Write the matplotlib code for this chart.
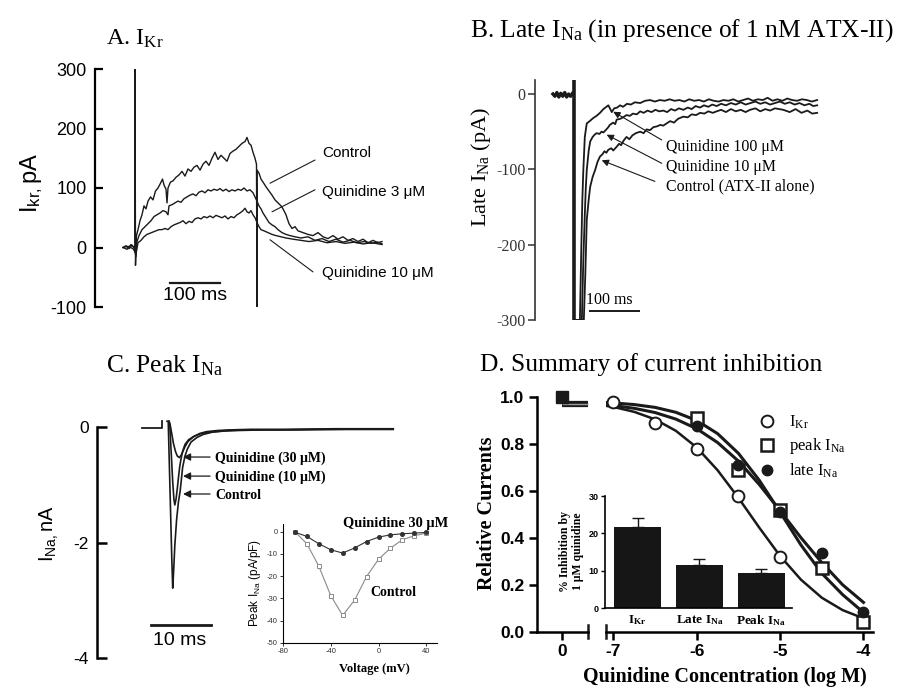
import matplotlib
matplotlib.use("Agg")
import matplotlib.pyplot as plt

plt.rcParams['mathtext.default'] = 'regular'
plt.rcParams['axes.unicode_minus'] = False
SERIF = 'Liberation Serif'
SANS = 'Liberation Sans'
INK = '#1a1a1a'

# ---------------- data ----------------
# A. I_Kr traces (time ms, current pA)
a_t_ctrl = [0, 6, 12, 18, 22, 24, 24, 25, 27, 30, 34, 38, 42, 46, 50, 55, 60, 65, 70, 75, 79, 82, 86, 88, 90,
            95, 100, 106, 112, 118, 124, 130, 136, 142, 148, 154, 160, 166, 172, 178, 184, 190, 196, 202, 208,
            214, 220, 226, 232, 238, 244, 248, 252, 256, 260, 264, 267, 268, 268, 272, 276, 280, 286, 292, 298,
            304, 310, 316, 320, 326, 332, 338, 344, 350, 360, 370, 380, 390, 400, 410, 420, 430, 440, 450, 460,
            470, 480, 490, 500, 510, 518]
a_ctrl = [0, 3, -2, 4, 0, 0, 300, -30, 20, 30, 45, 55, 70, 65, 78, 85, 80, 95, 100, 108, 115, 105, 98, 75, 100,
          110, 112, 118, 122, 128, 120, 132, 128, 135, 138, 130, 140, 145, 138, 150, 160, 148, 155, 150, 145,
          158, 162, 165, 170, 175, 178, 185, 175, 172, 160, 150, 140, -100, 130, 125, 115, 110, 102, 95, 88,
          80, 75, 70, 65, 55, 40, 32, 35, 28, 25, 22, 20, 25, 18, 15, 20, 14, 18, 12, 15,
          10, 14, 8, 12, 8, 10]
a_t_q3 = [0, 8, 16, 22, 26, 28, 32, 38, 44, 50, 56, 62, 68, 74, 80, 86, 90, 92, 98, 104, 110, 116, 122, 128, 134,
          140, 146, 152, 158, 164, 170, 176, 182, 188, 194, 200, 206, 212, 218, 224, 230, 236, 242, 248, 254,
          260, 264, 268, 272, 276, 280, 286, 292, 298, 304, 310, 318, 326, 334, 344, 356, 370, 384, 398, 412,
          426, 440, 454, 468, 482, 496, 510, 518]
a_q3 = [0, -3, 5, 0, -15, 10, 20, 30, 35, 40, 45, 52, 55, 58, 62, 60, 55, 70, 72, 75, 78, 76, 82, 85, 88,
        90, 87, 93, 95, 92, 97, 95, 98, 96, 99, 95, 98, 94, 97, 95, 98, 96, 100, 95, 97,
        92, 85, 78, 70, 65, 58, 50, 42, 38, 35, 30, 25, 22, 20, 18, 16, 18, 12, 15, 10,
        14, 9, 12, 8, 10, 7, 9, 6]
a_t_q10 = [0, 10, 20, 26, 30, 36, 42, 48, 54, 60, 66, 72, 78, 84, 90, 96, 102, 108, 114, 120, 126, 132, 138, 144,
           150, 156, 162, 168, 174, 180, 186, 192, 198, 204, 210, 216, 222, 228, 234, 240, 244, 248, 252, 256,
           260, 264, 268, 272, 276, 282, 290, 298, 306, 316, 326, 340, 356, 372, 390, 408, 426, 444, 462, 480,
           498, 518]
a_q10 = [0, 2, -2, -10, 8, 12, 18, 22, 24, 26, 28, 30, 30, 32, 30, 35, 38, 40, 42, 45, 40, 44, 42, 48,
         50, 48, 52, 50, 53, 50, 54, 52, 50, 53, 48, 52, 50, 55, 58, 62, 66, 60, 58, 62,
         55, 50, 42, 35, 30, 28, 25, 22, 20, 18, 16, 14, 12, 10, 12, 8, 10, 7, 9, 6,
         8, 5]

# B. late I_Na traces (time ms, current pA)
b_stim_t = 0
b_t_base = [-43, -39, -35, -31, -27, -23, -19, -15, -11, -7, -3]
b_base = [0, -3, 2, -4, 1, -3, 2, -4, 0, -3, 1]
b_t_q100 = [3, 12, 15, 17, 19, 22, 26, 32, 39, 46, 53, 60, 66, 70, 74, 77, 82, 88, 94, 100, 108, 116, 124, 135,
            145, 155, 165, 175, 185, 195, 205, 215, 225, 235, 245, 255, 265, 275, 285, 295, 305, 315, 325, 335,
            345, 355, 365, 375, 385, 395, 405, 415, 425, 435, 445, 455, 465, 475, 485, 496]
b_q100 = [-300, -300, -200, -140, -101, -57, -39, -36, -32, -29, -25, -20, -17, -15, -20, -24, -19, -18, -15, -17,
          -13, -14, -11, -12, -9, -8, -10, -8, -9, -7, -9, -8, -10, -7, -9, -8, -10, -7, -9, -10,
          -8, -9, -7, -10, -8, -6, -9, -7, -8, -5, -9, -7, -9, -6, -8, -9, -7, -8, -10, -8]
b_t_q10 = [4, 16, 19, 22, 24, 26, 30, 33, 38, 42, 46, 52, 56, 60, 66, 70, 73, 80, 84, 87, 94, 100, 107, 114, 120,
           128, 135, 142, 150, 158, 166, 174, 182, 190, 198, 206, 214, 223, 232, 240, 248, 257, 265, 274, 282,
           291, 300, 310, 320, 330, 340, 350, 360, 370, 380, 390, 400, 410, 420, 430, 440, 450, 460, 470, 480,
           488, 496]
b_q10 = [-300, -300, -220, -160, -125, -101, -75, -63, -57, -54, -52, -53, -50, -51, -47, -44, -41, -38, -40, -34,
         -33, -31, -28, -29, -26, -27, -23, -25, -22, -24, -21, -23, -22, -24, -20, -22, -19, -21, -18, -20,
         -16, -18, -15, -17, -14, -16, -13, -15, -12, -14, -11, -14, -12, -10, -13, -11, -14, -12, -10, -13,
         -11, -14, -12, -15, -13, -16, -15]
b_t_ctrl = [5, 20, 23, 26, 30, 33, 38, 43, 48, 53, 58, 62, 66, 70, 76, 80, 87, 92, 96, 101, 107, 113, 119, 126,
            135, 142, 148, 155, 162, 169, 176, 182, 189, 196, 204, 212, 223, 232, 240, 249, 257, 266, 274, 283,
            291, 300, 310, 320, 330, 340, 350, 359, 370, 380, 390, 400, 410, 427, 440, 452, 464, 476, 486, 496]
b_ctrl = [-300, -300, -240, -167, -140, -123, -110, -101, -90, -83, -80, -76, -78, -74, -72, -75, -70, -66, -68,
          -62, -57, -60, -55, -52, -50, -52, -47, -48, -44, -43, -41, -42, -39, -36, -38, -33, -30, -31, -27,
          -28, -25, -26, -23, -25, -23, -21, -24, -20, -23, -21, -24, -21, -19, -23, -20, -22, -19, -21, -24,
          -20, -25, -22, -26, -25]

# C. peak I_Na traces (time ms, current nA)
c_t_base = [-4.2, -0.85, -0.85]
c_base = [-0.02, -0.02, 0.1]
c_t_ctrl = [0, 0.2, 0.4, 0.6, 0.8, 0.95, 1.1, 1.3, 1.6, 1.9, 2.2, 2.6, 3.0, 3.4, 4.0, 5, 6, 7.5, 9.5, 12,
            16, 22, 30, 37.7]
c_ctrl = [0.1, 0.1, -0.7, -1.5, -2.3, -2.79, -2.5, -2.05, -1.6, -1.3, -1.1, -0.7, -0.5, -0.38, -0.26,
          -0.18, -0.13, -0.09, -0.07, -0.06, -0.05, -0.05, -0.04, -0.04]
c_t_q10 = [0.3, 0.45, 0.7, 0.95, 1.15, 1.3, 1.5, 1.7, 1.9, 2.1, 2.3, 2.6, 3.0, 3.6, 4.5, 5.5, 6.5, 8, 10, 13,
           18, 25, 37.7]
c_q10 = [0.1, 0.05, -0.45, -0.95, -1.25, -1.35, -1.25, -1.08, -0.88, -0.7, -0.57, -0.42, -0.3, -0.22, -0.16,
         -0.12, -0.1, -0.08, -0.06, -0.05, -0.05, -0.04, -0.04]
c_t_q30 = [0.35, 0.5, 0.8, 1.06, 1.4, 1.7, 2.06, 2.4, 2.7, 3.0, 3.5, 4.4, 5.5, 6.6, 8.5, 10.5, 14, 20, 28, 37.7]
c_q30 = [0.1, 0.05, -0.12, -0.28, -0.42, -0.5, -0.53, -0.48, -0.41, -0.34, -0.25, -0.17, -0.11, -0.08, -0.06,
         -0.05, -0.04, -0.04, -0.03, -0.03]

# C inset: I-V relation (mV, pA/pF)
iv_mv = [-70, -60, -50, -40, -30, -20, -10, 0, 10, 20, 30, 40]
iv_ctrl = [0, -5.4, -15.5, -28.8, -37.7, -30.8, -20.2, -12.4, -7.4, -3.6, -1.8, -0.6]
iv_quin = [-0.2, -2.1, -5.4, -8.1, -9.6, -7.3, -4.4, -2.4, -1.4, -0.9, -0.6, -0.3]

# D. concentration-response (log M, relative current)
ctrl_x = [0]
ctrl_rel = [1.0]
ctrl_fit_x = [0, 1]
ctrl_fit = [0.972, 0.972]
conc_ikr = [-7, -6.5, -6, -5.5, -5]
rel_ikr = [0.98, 0.89, 0.78, 0.58, 0.32]
conc_na = [-6, -5.5, -5, -4.5, -4]
rel_peak = [0.91, 0.69, 0.52, 0.27, 0.04]
rel_late = [0.877, 0.71, 0.51, 0.335, 0.085]
fit_x = [-7.1, -7.0, -6.75, -6.5, -6.25, -6.0, -5.75, -5.5, -5.25, -5.0, -4.75, -4.5, -4.25, -4.0]
fit_ikr = [0.964, 0.959, 0.938, 0.906, 0.857, 0.786, 0.689, 0.571, 0.444, 0.323, 0.222, 0.145, 0.092, 0.057]
fit_peak = [0.978, 0.976, 0.969, 0.957, 0.936, 0.901, 0.845, 0.761, 0.646, 0.510, 0.370, 0.249, 0.158, 0.082]
fit_late = [0.968, 0.965, 0.953, 0.935, 0.907, 0.866, 0.807, 0.728, 0.628, 0.516, 0.401, 0.295, 0.200, 0.125]

# D inset: % inhibition by 1 uM quinidine
bar_labels = ['I$_{Kr}$', 'Late I$_{Na}$', 'Peak I$_{Na}$']
bar_vals = [21.8, 11.5, 9.4]
bar_err = [2.3, 1.7, 1.1]

# ---------------- figure ----------------
W, H = 904, 690
fig = plt.figure(figsize=(W / 100, H / 100), dpi=100)


def box(l, t, r, b):
    return [l / W, 1 - b / H, (r - l) / W, (b - t) / H]


def ftext(x, y, s, **kw):
    fig.text(x / W, 1 - y / H, s, **kw)


def only_spines(ax, keep):
    for s in ['left', 'right', 'top', 'bottom']:
        ax.spines[s].set_visible(s in keep)


# ---- A ----
axA = fig.add_axes(box(95, 69, 445, 307))
axA.plot(a_t_ctrl, a_ctrl, color=INK, lw=1.0)
axA.plot(a_t_q3, a_q3, color=INK, lw=1.0)
axA.plot(a_t_q10, a_q10, color=INK, lw=1.0)
axA.set_xlim(-56, 644)
axA.set_ylim(-100, 300)
only_spines(axA, ['left'])
axA.spines['left'].set_linewidth(1.6)
axA.set_xticks([])
axA.set_yticks([-100, 0, 100, 200, 300])
axA.tick_params(axis='y', direction='in', length=6, width=1.6, labelsize=13, pad=6, labelfontfamily=SANS)
for tip, tail, lab, ty in [((294, 108), (384, 147), 'Control', 159),
                           ((298, 60), (384, 97), 'Quinidine 3 μM', 93),
                           ((294, 13), (380, -41), 'Quinidine 10 μM', -43)]:
    axA.annotate('', xy=tip, xytext=tail,
                 arrowprops=dict(arrowstyle='-', lw=0.8, color=INK, shrinkA=0, shrinkB=0))
    axA.text(398, ty, lab, family=SANS, size=11, va='center', ha='left')
axA.plot([94, 194], [-60, -60], color=INK, lw=1.6)
axA.text(144, -80, '100 ms', family=SANS, size=14, ha='center', va='center')
ftext(106, 45, 'A. I$_{Kr}$', family=SERIF, size=17.5, va='baseline')
ftext(32, 183, 'I$_{kr,}$pA', family=SANS, size=17, rotation=90, ha='center', va='center')

# ---- B ----
axB = fig.add_axes(box(535, 80, 900, 320))
axB.plot(b_t_base, b_base, color=INK, lw=2.4)
axB.vlines(b_stim_t, -300, 18.6, color=INK, lw=2.6)
axB.plot(b_t_q100, b_q100, color=INK, lw=1.3)
axB.plot(b_t_q10, b_q10, color=INK, lw=1.3)
axB.plot(b_t_ctrl, b_ctrl, color=INK, lw=1.3)
axB.set_xlim(-79.6, 665)
axB.set_ylim(-300, 18.6)
only_spines(axB, ['left'])
axB.spines['left'].set_linewidth(1.2)
axB.spines['left'].set_color('#333333')
axB.set_xticks([])
axB.set_yticks([0, -100, -200, -300])
axB.tick_params(axis='y', direction='out', length=5, width=1.1, labelsize=11.5, pad=2,
                labelfontfamily=SERIF, colors='#333333')
for tip, tail, lab, ty in [((80, -23.5), (179, -61), 'Quinidine 100 μM', -70),
                           ((66.6, -54), (179, -92), 'Quinidine 10 μM', -97),
                           ((56.5, -88), (165, -116), 'Control (ATX-II alone)', -123)]:
    axB.annotate('', xy=tip, xytext=tail,
                 arrowprops=dict(arrowstyle='-|>', lw=0.8, color=INK, mutation_scale=10,
                                 shrinkA=0, shrinkB=0))
    axB.text(188, ty, lab, family=SERIF, size=11.4, va='center', ha='left')
axB.plot([32.6, 132.6], [-288, -288], color=INK, lw=1.4)
axB.text(72.7, -273, '100 ms', family=SERIF, size=11.4, ha='center', va='center')
ftext(470, 37, 'B. Late I$_{Na}$ (in presence of 1 nM ATX-II)', family=SERIF, size=18.4, va='baseline')
ftext(481, 167, 'Late I$_{Na}$ (pA)', family=SERIF, size=16, rotation=90, ha='center', va='center')

# ---- C ----
axC = fig.add_axes(box(97, 406.8, 400, 658))
axC.plot(c_t_base, c_base, color=INK, lw=1.3)
axC.plot(c_t_ctrl, c_ctrl, color=INK, lw=1.2)
axC.plot(c_t_q10, c_q10, color=INK, lw=1.2)
axC.plot(c_t_q30, c_q30, color=INK, lw=1.2)
axC.set_xlim(-11.67, 38.83)
axC.set_ylim(-4, 0.35)
only_spines(axC, ['left'])
axC.spines['left'].set_bounds(-4, 0)
axC.spines['left'].set_linewidth(1.8)
axC.set_xticks([])
axC.set_yticks([0, -2, -4])
axC.tick_params(axis='y', direction='in', length=7, width=1.8, labelsize=12.5, pad=6, labelfontfamily=SANS)
for tipy, lab in [(-0.52, 'Quinidine (30 μM)'), (-0.85, 'Quinidine (10 μM)'), (-1.16, 'Control')]:
    axC.annotate('', xy=(2.67, tipy), xytext=(7.17, tipy),
                 arrowprops=dict(arrowstyle='-|>', lw=0.9, color=INK, mutation_scale=11,
                                 shrinkA=0, shrinkB=0))
    axC.text(8.0, tipy - 0.02, lab, family=SERIF, weight='bold', size=10, va='center', ha='left')
axC.plot([-2.67, 7.33], [-3.43, -3.43], color=INK, lw=2)
axC.text(2.17, -3.69, '10 ms', family=SANS, size=14, ha='center', va='center')
ftext(106, 372, 'C. Peak I$_{Na}$', family=SERIF, size=18.4, va='baseline')
ftext(49.5, 534, 'I$_{Na,}$nA', family=SANS, size=14.3, rotation=90, ha='center', va='center')

# C inset
axCi = fig.add_axes(box(283, 524, 437, 642.7))
axCi.plot(iv_mv, iv_ctrl, '-s', color='#8a8a8a', mfc='white', ms=2.6, mew=0.7, lw=0.8)
axCi.plot(iv_mv, iv_quin, '-o', color='#333333', ms=2.6, lw=0.8)
axCi.set_xlim(-80, 49)
axCi.set_ylim(-50, 3.5)
axCi.set_facecolor('none')
only_spines(axCi, ['left', 'bottom'])
for s in ['left', 'bottom']:
    axCi.spines[s].set_linewidth(0.8)
axCi.set_xticks([-80, -40, 0, 40])
axCi.set_yticks([0, -10, -20, -30, -40, -50])
axCi.tick_params(length=2.5, width=0.7, labelsize=5.5, pad=1.5, labelfontfamily=SANS, colors='#333333')
ftext(343, 524, 'Quinidine 30 μM', family=SERIF, weight='bold', size=10.4, va='center')
ftext(370, 593, 'Control', family=SERIF, weight='bold', size=10, va='center')
ftext(374, 669, 'Voltage (mV)', family=SERIF, weight='bold', size=9, ha='center', va='center')
ftext(255, 583, 'Peak I$_{Na}$ (pA/pF)', family=SANS, size=8.5, rotation=90, ha='center', va='center')

# ---- D ----
axD0 = fig.add_axes(box(537, 397.3, 588, 631.7))
axD1 = fig.add_axes(box(606, 397.3, 873, 631.7))
for ax in (axD0, axD1):
    ax.set_ylim(0, 1.0)
    ax.set_facecolor('none')
axD0.set_xlim(-1, 1)
axD1.set_xlim(-7.088, -3.886)

axD0.plot(ctrl_fit_x, ctrl_fit, color=INK, lw=4.5, solid_capstyle='butt', clip_on=False)
axD0.plot(ctrl_fit_x, ctrl_fit, color='#9a9a9a', lw=1.0, solid_capstyle='butt', clip_on=False)
axD0.plot(ctrl_x, ctrl_rel, 's', color=INK, ms=9, clip_on=False)

axD1.plot(fit_x, fit_ikr, color=INK, lw=1.8, zorder=2)
axD1.plot(fit_x, fit_peak, color=INK, lw=2.2, zorder=2)
axD1.plot(fit_x, fit_late, color=INK, lw=2.2, zorder=2)
h_ikr, = axD1.plot(conc_ikr, rel_ikr, 'o', mfc='white', mec=INK, mew=1.4, ms=8.5, zorder=3, clip_on=False)
h_peak, = axD1.plot(conc_na, rel_peak, 's', mfc='white', mec=INK, mew=1.8, ms=8.5, zorder=3, clip_on=False)
h_late, = axD1.plot(conc_na, rel_late, 'o', color=INK, ms=7.5, zorder=4, clip_on=False)

only_spines(axD0, ['left', 'bottom'])
only_spines(axD1, ['bottom'])
for ax in (axD0, axD1):
    for s in ['left', 'bottom']:
        ax.spines[s].set_linewidth(1.8)
    ax.tick_params(direction='out', length=6, width=1.8, labelsize=12.5, pad=3, labelfontfamily=SANS)
axD0.set_yticks([0, 0.2, 0.4, 0.6, 0.8, 1.0])
axD0.set_yticklabels(['0.0', '0.2', '0.4', '0.6', '0.8', '1.0'], fontweight='bold')
axD0.set_xticks([0])
axD0.set_xticklabels(['0'], fontweight='bold')
axD1.set_yticks([])
axD1.set_xticks([-7, -6, -5, -4])
axD1.set_xticklabels(['-7', '-6', '-5', '-4'], fontweight='bold')
# axis break marks
axD0.plot([1, 1], [-0.028, 0.028], transform=axD0.transAxes, color=INK, lw=1.8, clip_on=False)
axD1.plot([0, 0], [-0.028, 0.028], transform=axD1.transAxes, color=INK, lw=1.8, clip_on=False)

axD1.legend([h_ikr, h_peak, h_late], ['I$_{Kr}$', 'peak I$_{Na}$', 'late I$_{Na}$'],
            loc='upper left', bbox_to_anchor=(759 / W, 1 - 414 / H), bbox_transform=fig.transFigure,
            frameon=False, prop=dict(family=SERIF, size=12), handlelength=1.0, handletextpad=0.8,
            borderpad=0, borderaxespad=0, labelspacing=0.3)

ftext(480, 371, 'D. Summary of current inhibition', family=SERIF, size=18.4, va='baseline')
ftext(487.5, 513, 'Relative Currents', family=SERIF, weight='bold', size=14.5, rotation=90,
      ha='center', va='center')
ftext(724.5, 677, 'Quinidine Concentration (log M)', family=SERIF, weight='bold', size=14.5,
      ha='center', va='center')

# D inset bar chart
axDi = fig.add_axes(box(605, 496, 792, 608))
axDi.set_facecolor('none')
xpos = list(range(len(bar_vals)))
axDi.bar(xpos, bar_vals, width=0.76, color='#161616', zorder=2)
axDi.errorbar(xpos, bar_vals, yerr=[[0] * len(bar_err), bar_err], fmt='none', ecolor='#161616',
              elinewidth=1.0, capsize=4.5, capthick=1.0, zorder=1)
axDi.set_xlim(-0.527, 2.5)
axDi.set_ylim(0, 30)
only_spines(axDi, ['left', 'bottom'])
for s in ['left', 'bottom']:
    axDi.spines[s].set_linewidth(1.2)
axDi.set_yticks([0, 10, 20, 30])
axDi.set_yticklabels(['0', '10', '20', '30'], fontweight='bold')
axDi.tick_params(axis='y', length=3, width=1.0, labelsize=6.5, pad=1.5, labelfontfamily=SANS)
axDi.set_xticks(xpos)
axDi.set_xticklabels(bar_labels, family=SERIF, fontweight='bold', fontsize=9.5)
axDi.tick_params(axis='x', length=0, pad=4)
ftext(571.5, 551.5, '% Inhibition by\n1 μM quinidine', family=SERIF, weight='bold', size=8.5,
      rotation=90, ha='center', va='center', linespacing=1.15)

fig.savefig('out.png', dpi=100)
